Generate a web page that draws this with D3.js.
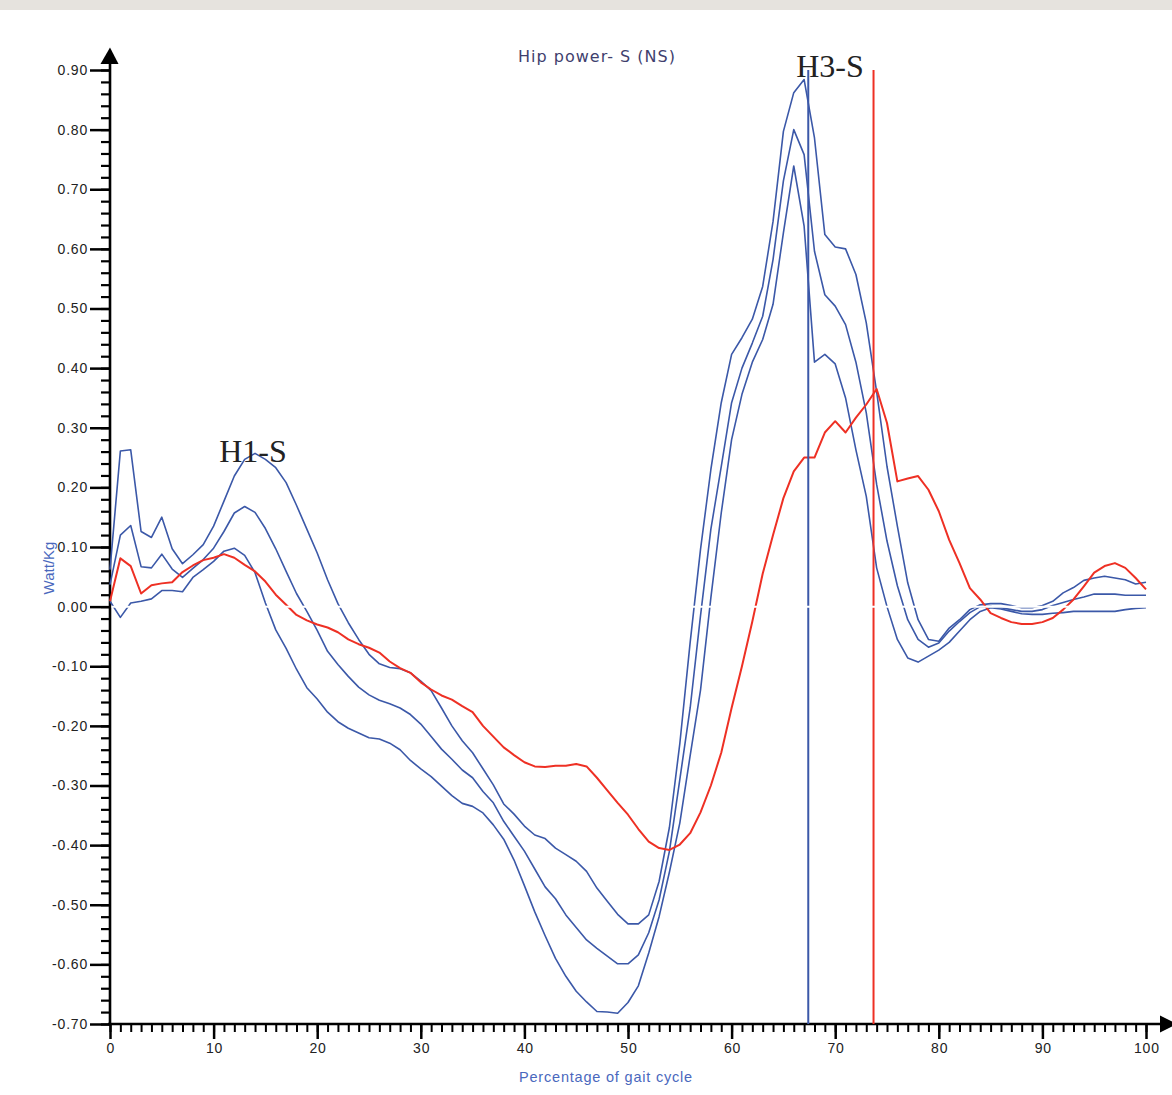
<!DOCTYPE html>
<html>
<head>
<meta charset="utf-8">
<script src="https://cdn.jsdelivr.net/npm/d3@7"></script>
<style>
  body { margin: 0; background: #fff; }
  svg { display: block; }
</style>
</head>
<body>
<svg id="svg-container" width="1172" height="1095"></svg>
<script>
// gait cycle percentages (0..100) and hip power curves, Watt/Kg
const pct = [0,1,2,3,4,5,6,7,8,9,10,11,12,13,14,15,16,17,18,19,20,21,22,23,24,25,26,27,28,29,30,31,32,33,34,35,36,37,38,39,40,41,42,43,44,45,46,47,48,49,50,51,52,53,54,55,56,57,58,59,60,61,62,63,64,65,66,67,68,69,70,71,72,73,74,75,76,77,78,79,80,81,82,83,84,85,86,87,88,89,90,91,92,93,94,95,96,97,98,99,100];

const normUpper = [0.062,0.261,0.263,0.126,0.116,0.150,0.097,0.072,0.087,0.104,
  0.135,0.177,0.219,0.247,0.257,0.247,0.233,0.208,0.170,0.130,
  0.090,0.045,0.005,-0.027,-0.055,-0.080,-0.096,-0.102,-0.104,-0.111,
  -0.125,-0.141,-0.170,-0.200,-0.225,-0.245,-0.272,-0.299,-0.331,-0.348,
  -0.368,-0.383,-0.389,-0.405,-0.416,-0.427,-0.444,-0.472,-0.494,-0.516,
  -0.532,-0.532,-0.517,-0.461,-0.370,-0.230,-0.060,0.096,0.230,0.342,
  0.423,0.451,0.482,0.537,0.646,0.797,0.862,0.884,0.786,0.624,
  0.603,0.600,0.557,0.476,0.360,0.235,0.135,0.040,-0.022,-0.055,
  -0.058,-0.036,-0.022,-0.005,0.003,0.005,0.005,0.002,-0.002,-0.002,
  0.002,0.009,0.023,0.032,0.044,0.048,0.051,0.048,0.045,0.038,0.041];

const normMean = [0.037,0.120,0.136,0.067,0.065,0.088,0.063,0.049,0.064,0.079,
  0.098,0.126,0.157,0.168,0.158,0.131,0.097,0.059,0.022,-0.008,
  -0.040,-0.075,-0.097,-0.117,-0.135,-0.148,-0.157,-0.163,-0.170,-0.181,
  -0.197,-0.218,-0.239,-0.256,-0.274,-0.287,-0.310,-0.329,-0.360,-0.385,
  -0.410,-0.440,-0.470,-0.490,-0.517,-0.538,-0.559,-0.573,-0.586,-0.599,
  -0.599,-0.584,-0.547,-0.492,-0.410,-0.290,-0.170,-0.015,0.130,0.235,
  0.342,0.400,0.442,0.487,0.582,0.714,0.800,0.758,0.596,0.523,
  0.504,0.473,0.410,0.325,0.205,0.110,0.035,-0.022,-0.055,-0.068,
  -0.061,-0.041,-0.025,-0.010,0.000,0.000,-0.002,-0.005,-0.008,-0.008,
  -0.005,0.002,0.007,0.012,0.016,0.021,0.021,0.021,0.019,0.019,0.019];

const normLower = [0.009,-0.018,0.006,0.009,0.013,0.027,0.027,0.025,0.049,0.062,
  0.076,0.093,0.098,0.086,0.057,0.006,-0.039,-0.070,-0.105,-0.136,
  -0.155,-0.177,-0.193,-0.204,-0.212,-0.220,-0.222,-0.229,-0.240,-0.258,
  -0.272,-0.285,-0.301,-0.317,-0.330,-0.335,-0.346,-0.366,-0.390,-0.425,
  -0.468,-0.512,-0.552,-0.590,-0.620,-0.645,-0.663,-0.679,-0.680,-0.682,
  -0.664,-0.636,-0.581,-0.520,-0.445,-0.363,-0.250,-0.140,0.015,0.157,
  0.280,0.356,0.410,0.448,0.507,0.627,0.739,0.638,0.410,0.423,
  0.407,0.350,0.263,0.185,0.065,0.000,-0.055,-0.086,-0.093,-0.083,
  -0.073,-0.060,-0.041,-0.022,-0.008,-0.002,-0.004,-0.008,-0.012,-0.013,
  -0.013,-0.011,-0.010,-0.008,-0.008,-0.008,-0.008,-0.008,-0.005,-0.003,-0.002];

const subject = [0.009,0.081,0.068,0.022,0.036,0.039,0.041,0.058,0.069,0.078,
  0.082,0.088,0.082,0.070,0.059,0.042,0.020,0.003,-0.014,-0.023,
  -0.030,-0.035,-0.043,-0.055,-0.063,-0.069,-0.077,-0.092,-0.103,-0.111,
  -0.127,-0.139,-0.149,-0.156,-0.167,-0.177,-0.200,-0.218,-0.236,-0.249,
  -0.261,-0.268,-0.269,-0.267,-0.267,-0.264,-0.268,-0.287,-0.308,-0.329,
  -0.349,-0.373,-0.394,-0.405,-0.408,-0.399,-0.380,-0.345,-0.300,-0.245,
  -0.170,-0.100,-0.025,0.055,0.120,0.182,0.227,0.250,0.250,0.292,
  0.311,0.292,0.317,0.339,0.365,0.308,0.210,0.215,0.219,0.196,
  0.160,0.112,0.073,0.031,0.012,-0.011,-0.019,-0.026,-0.029,-0.029,
  -0.026,-0.019,-0.005,0.012,0.034,0.057,0.068,0.073,0.065,0.048,0.029];

// peak markers (percentage of gait cycle)
const markerNorm = 67.4;
const markerSubject = 73.7;

const yMajor = [0.9,0.8,0.7,0.6,0.5,0.4,0.3,0.2,0.1,0,-0.1,-0.2,-0.3,-0.4,-0.5,-0.6,-0.7];
const xMajor = [0,10,20,30,40,50,60,70,80,90,100];

const annotations = [
  {text: 'H1-S', x: 13.8, y: 0.242},
  {text: 'H3-S', x: 69.5, y: 0.888}
];

const blue = '#3b58a8', red = '#ee3024', axisBlue = '#4a68bd';

const svg = d3.select('#svg-container');
const width = 1172, height = 1095;

const x = d3.scaleLinear().domain([0, 100]).range([110, 1146]);
const y = d3.scaleLinear().domain([-0.7, 0.9]).range([1024, 70]);

// grey strip on top
svg.append('rect')
  .attr('x', 0).attr('y', 0)
  .attr('width', width).attr('height', 10)
  .attr('fill', '#e6e3de');

// title
svg.append('text')
  .attr('x', 597).attr('y', 62)
  .attr('text-anchor', 'middle')
  .style('font-family', '"DejaVu Sans", Verdana, sans-serif')
  .style('font-size', '16px')
  .style('letter-spacing', '1px')
  .attr('fill', '#3f3f6e')
  .text('Hip power- S (NS)');

const fmt = d => Math.abs(d) < 1e-9 ? '0.00' : d.toFixed(2);

// minor ticks
svg.append('g')
  .attr('class', 'y-minor')
  .attr('transform', 'translate(110,0)')
  .call(d3.axisLeft(y).tickValues(d3.range(-35, 46).map(i => i * 0.02)).tickSize(9).tickFormat(''))
  .call(g => g.select('.domain').remove())
  .call(g => g.selectAll('line').attr('stroke', '#000').attr('stroke-width', 2.2));

svg.append('g')
  .attr('class', 'x-minor')
  .attr('transform', 'translate(0,1024)')
  .call(d3.axisBottom(x).tickValues(pct).tickSize(8).tickFormat(''))
  .call(g => g.select('.domain').remove())
  .call(g => g.selectAll('line').attr('stroke', '#000').attr('stroke-width', 2));

// major ticks + labels
svg.append('g')
  .attr('class', 'y-axis')
  .attr('transform', 'translate(110,0)')
  .call(d3.axisLeft(y).tickValues(yMajor).tickSize(20).tickPadding(2).tickFormat(fmt))
  .call(g => g.select('.domain').remove())
  .call(g => g.selectAll('line').attr('stroke', '#000').attr('stroke-width', 2.5))
  .call(g => g.selectAll('text')
    .attr('fill', '#222')
    .style('font-family', '"Liberation Sans", Arial, sans-serif')
    .style('font-size', '14px')
    .style('letter-spacing', '0.8px'));

svg.append('g')
  .attr('class', 'x-axis')
  .attr('transform', 'translate(0,1024)')
  .call(d3.axisBottom(x).tickValues(xMajor).tickSize(15).tickPadding(4).tickFormat(d => d))
  .call(g => g.select('.domain').remove())
  .call(g => g.selectAll('line').attr('stroke', '#000').attr('stroke-width', 2.5))
  .call(g => g.selectAll('text')
    .attr('fill', '#222')
    .attr('dx', '0.4')
    .style('font-family', '"Liberation Sans", Arial, sans-serif')
    .style('font-size', '14px')
    .style('letter-spacing', '0.8px'));

// axis lines with arrows
svg.append('line')
  .attr('x1', 110).attr('y1', 1024).attr('x2', 110).attr('y2', 62)
  .attr('stroke', '#000').attr('stroke-width', 2.6);
svg.append('path')
  .attr('d', 'M100.5,64 L110,47.5 L118.5,64 Z')
  .attr('fill', '#000');
svg.append('line')
  .attr('x1', 108).attr('y1', 1024).attr('x2', 1162).attr('y2', 1024)
  .attr('stroke', '#000').attr('stroke-width', 2.6);
svg.append('path')
  .attr('d', 'M1160,1015.5 L1177,1024 L1160,1032.5 Z')
  .attr('fill', '#000');

// curves
const line = d3.line()
  .x((d, i) => x(pct[i]))
  .y(d => y(d));

const series = [
  {values: normUpper, color: blue},
  {values: normMean, color: blue},
  {values: normLower, color: blue},
  {values: subject, color: red}
];

svg.append('g')
  .attr('class', 'curves')
  .selectAll('path')
  .data(series)
  .enter()
  .append('path')
  .attr('d', d => line(d.values))
  .attr('fill', 'none')
  .attr('stroke', d => d.color)
  .attr('stroke-width', d => d.color === red ? 2 : 1.6)
  .attr('stroke-linejoin', 'round');

// vertical peak markers
svg.append('g')
  .selectAll('line')
  .data([{p: markerNorm, c: blue}, {p: markerSubject, c: red}])
  .enter()
  .append('line')
  .attr('x1', d => x(d.p)).attr('x2', d => x(d.p))
  .attr('y1', y(0.9)).attr('y2', y(-0.7))
  .attr('stroke', d => d.c)
  .attr('stroke-width', 2);

// white zero line over the curves
svg.append('line')
  .attr('x1', x(0) + 1.5).attr('x2', x(100))
  .attr('y1', y(0)).attr('y2', y(0))
  .attr('stroke', '#fff')
  .attr('stroke-width', 2);

// peak labels
svg.append('g')
  .selectAll('text')
  .data(annotations)
  .enter()
  .append('text')
  .attr('x', d => x(d.x))
  .attr('y', d => y(d.y))
  .attr('text-anchor', 'middle')
  .style('font-family', '"Liberation Serif", "Times New Roman", serif')
  .style('font-size', '32px')
  .attr('fill', '#222')
  .text(d => d.text);

// axis titles
svg.append('text')
  .attr('transform', 'translate(54,568) rotate(-90)')
  .attr('text-anchor', 'middle')
  .style('font-family', '"Liberation Sans Narrow", "Liberation Sans", Arial, sans-serif')
  .style('font-size', '15px')
  .attr('fill', axisBlue)
  .text('Watt/Kg');

svg.append('text')
  .attr('x', 606).attr('y', 1082)
  .attr('text-anchor', 'middle')
  .style('font-family', '"Liberation Sans", Arial, sans-serif')
  .style('font-size', '14.5px')
  .style('letter-spacing', '0.8px')
  .attr('fill', axisBlue)
  .text('Percentage of gait cycle');
</script>
</body>
</html>
